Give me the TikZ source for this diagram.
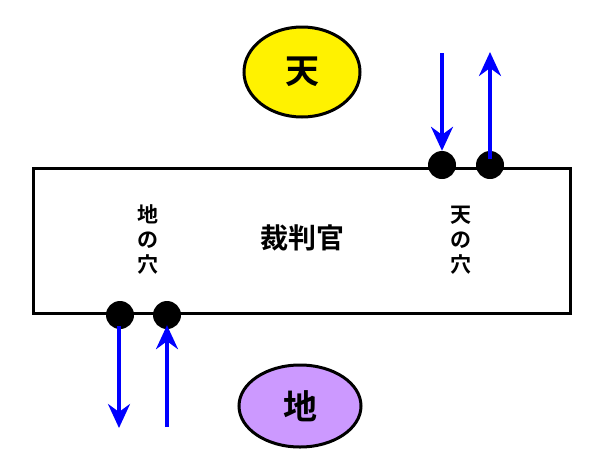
\documentclass[tikz,border=0pt]{standalone}
\usepackage{fontspec}
\newfontfamily\cjk{Noto Sans CJK JP}[BoldFont={* Bold}]
\usetikzlibrary{arrows.meta,shapes.geometric}
\begin{document}
\begin{tikzpicture}[x=1pt,y=-1pt,
  frame/.style={draw=black,line width=3pt},
  blob/.style={ellipse,draw=black,line width=3pt,inner sep=0pt},
  dot/.style={circle,fill=black,minimum size=28pt,inner sep=0pt},
  flow/.style={draw=blue,line width=3.5pt,-{Stealth[length=24pt,width=22pt,inset=8pt]}},
  vlabel/.style={font=\cjk\bfseries\fontsize{21}{25}\selectfont,align=center}]
\useasboundingbox (0,0) rectangle (597,472);
\node[frame,minimum width=537pt,minimum height=145pt,inner sep=0pt] (box) at (301.5,240.5) {};
\node[blob,fill=yellow,minimum width=116pt,minimum height=90pt] (ten) at (302,72) {\cjk\bfseries\fontsize{34}{34}\selectfont 天};
\node[blob,fill={rgb,255:red,204;green,153;blue,255},minimum width=122pt,minimum height=82pt] (chi) at (300,406) {\cjk\bfseries\fontsize{34}{34}\selectfont 地};
\node[font=\cjk\bfseries\fontsize{28}{28}\selectfont] (judge) at (302,238) {裁判官};
\node[vlabel] (lh) at (148,240) {地\\の\\穴};
\node[vlabel] (rh) at (461,240) {天\\の\\穴};
\node[dot] (d1) at (442,165) {};
\node[dot] (d2) at (490,165) {};
\node[dot] (d3) at (120,315) {};
\node[dot] (d4) at (167,315) {};
\coordinate (a1) at (442,53);
\coordinate (a2) at (490,52);
\coordinate (a3) at (119,428);
\coordinate (a4) at (167,427);
\draw[flow] (a1) -- (d1.north);
\draw[flow] ([yshift=-8pt]d2.north) -- (a2);
\draw[flow] ([yshift=3pt]d3.south -| a3) -- (a3);
\draw[flow] (a4) -- ([yshift=4pt]d4.south);
\end{tikzpicture}
\end{document}
